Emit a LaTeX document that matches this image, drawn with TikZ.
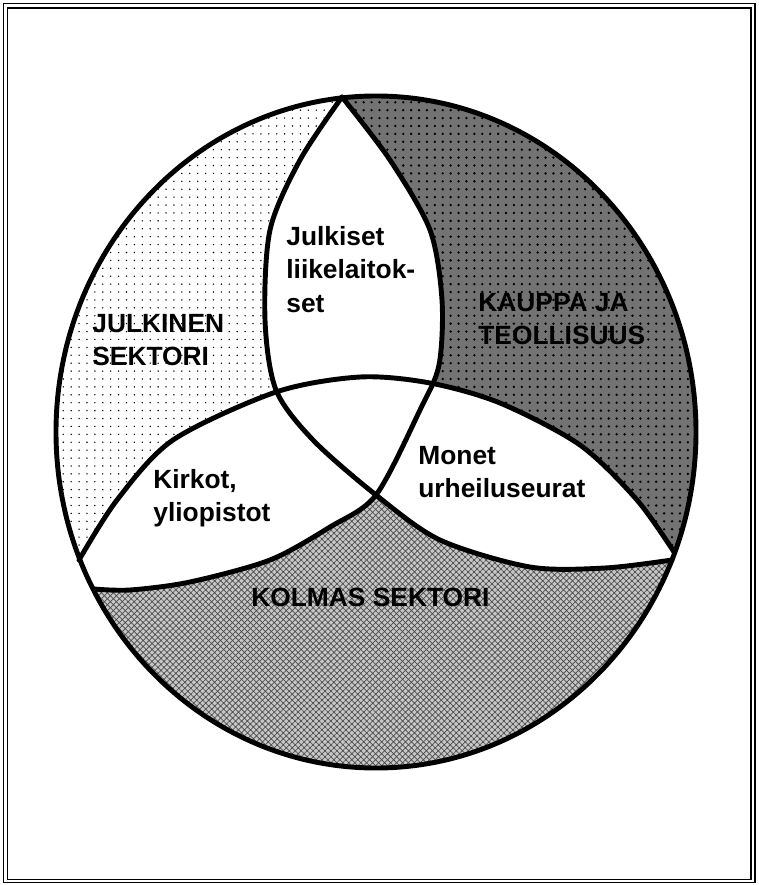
\documentclass[tikz,border=0pt]{standalone}
\usepackage{fontspec}
\setmainfont{Liberation Sans}
\usetikzlibrary{patterns.meta}

% the three dividing arcs and the outer rim
\newcommand\arcleft{plot[smooth] coordinates {(T) (300,160) (270,230) (265,320) (276,390) (313,440) (X) (440,540) (530,567) (605,568) (Rb)}}
\newcommand\arcright{plot[smooth] coordinates {(T) (390,160) (430,230) (442,300) (439,365) (420,410) (X) (330,527) (270,560) (190,582) (130,590) (Lb)}}
\newcommand\arctop{plot[smooth] coordinates {(L) (117,500) (173,440) (276,392) (360,377) (430,383) (500,403) (580,445) (637,500) (R)}}
\newcommand\rimpath{(376,432) ellipse [x radius=320, y radius=336]}

\begin{document}
\begin{tikzpicture}[x=0.02cm, y=-0.02cm,
    rim/.style={line width=2.8pt, line join=round, line cap=round},
    julkinenfill/.style={pattern={Dots[distance=4.5pt, radius=0.45pt]}},
    kauppafill/.style={fill=black!55, postaction={pattern={Dots[distance=4.5pt, radius=0.75pt]}}},
    kolmasfill/.style={fill=black!22, postaction={pattern={Hatch[distance=2.4pt, angle=45, line width=0.4pt]}, pattern color=black!70}},
    sector/.style={font=\fontsize{15}{19}\selectfont\bfseries, align=left, inner sep=0pt, anchor=north west}]
  \useasboundingbox (0,0) rectangle (758,885);
  % double frame
  \draw[line width=0.8pt] (3.5,3.5) rectangle (755,882.5);
  \draw[line width=0.8pt] (7.5,8) rectangle (751,879.5);

  \coordinate (T) at (342,97);
  \coordinate (L) at (79,560);
  \coordinate (Lb) at (94,589);
  \coordinate (R) at (674,552);
  \coordinate (Rb) at (672,560);
  \coordinate (X) at (376,495);

  % julkinen sektori: above the top arc, left of the left arc
  \begin{scope}
    \clip \arctop -- (758,552) -- (758,0) -- (0,0) -- (0,560) -- cycle;
    \clip \arcleft -- (758,565) -- (758,885) -- (0,885) -- (0,0) -- (342,0) -- cycle;
    \fill[julkinenfill] \rimpath;
  \end{scope}
  % kauppa ja teollisuus: above the top arc, right of the right arc
  \begin{scope}
    \clip \arctop -- (758,552) -- (758,0) -- (0,0) -- (0,560) -- cycle;
    \clip \arcright -- (0,600) -- (0,885) -- (758,885) -- (758,0) -- (342,0) -- cycle;
    \fill[kauppafill] \rimpath;
  \end{scope}
  % kolmas sektori: below both side arcs
  \begin{scope}
    \clip \arcleft -- (758,565) -- (758,885) -- (0,885) -- (0,0) -- (342,0) -- cycle;
    \clip \arcright -- (0,600) -- (0,885) -- (758,885) -- (758,0) -- (342,0) -- cycle;
    \fill[kolmasfill] \rimpath;
  \end{scope}

  \draw[rim] \rimpath;
  \draw[rim] \arcleft;
  \draw[rim] \arcright;
  \draw[rim] \arctop;

  \node[sector] (julkinen) at (92,314) {JULKINEN\\SEKTORI};
  \node[sector] (kauppa) at (478,293) {KAUPPA JA\\TEOLLISUUS};
  \node[sector] (kolmas) at (251,588) {KOLMAS SEKTORI};
  \node[sector] (liikelaitokset) at (286,226) {Julkiset\\liikelaitok-\\set};
  \node[sector] (kirkot) at (153,469) {Kirkot,\\yliopistot};
  \node[sector] (urheiluseurat) at (418,446) {Monet\\urheiluseurat};
\end{tikzpicture}
\end{document}
